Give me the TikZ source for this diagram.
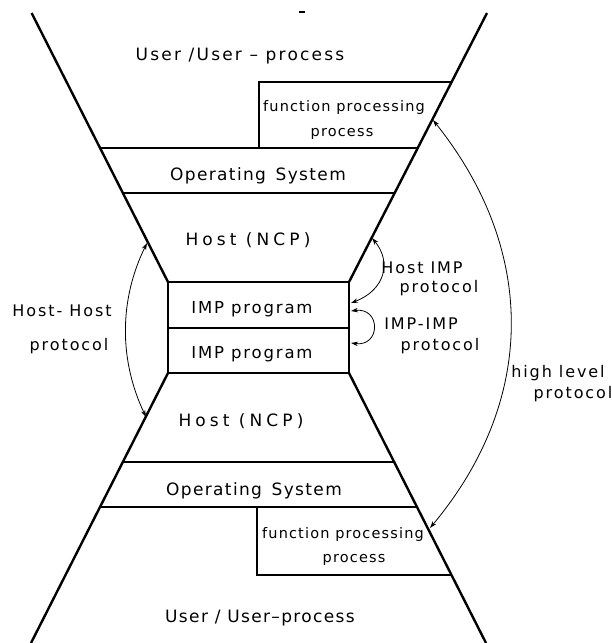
\documentclass[tikz,border=0pt]{standalone}
\usepackage{fontspec}
\setmainfont{DejaVu Sans}[LetterSpace=8]
\usetikzlibrary{arrows.meta,calc}
\tikzset{
  funnel/.style={line width=2.4pt},
  layer/.style={line width=1.6pt},
  impbox/.style={line width=2.8pt},
  fbox/.style={line width=1.2pt},
  proto/.style={line width=0.8pt,{Stealth[length=7pt,width=4.5pt]}-{Stealth[length=7pt,width=4.5pt]}},
  lbl/.style={anchor=base,inner sep=0pt,font=\fontsize{17}{20}\selectfont},
  lblw/.style={lbl,font=\fontsize{17}{20}\selectfont\addfontfeature{LetterSpace=13}},
  wide/.style={lbl,font=\fontsize{17}{20}\selectfont\addfontfeature{LetterSpace=24}},
  implbl/.style={lbl,font=\fontsize{16.5}{20}\selectfont\addfontfeature{LetterSpace=11}},
  flbl/.style={lbl,font=\fontsize{14.5}{18}\selectfont},
  side/.style={lbl,font=\fontsize{16}{20}\selectfont\addfontfeature{LetterSpace=12}},
}
\begin{document}
\begin{tikzpicture}[x=1pt,y=-1pt]
\useasboundingbox (0,0) rectangle (612,643);
% key points of the funnels
\coordinate (TL) at (31.6,13);
\coordinate (TR) at (487,13);
\coordinate (IL) at (168,282);
\coordinate (IR) at (349,282);
\coordinate (JL) at (168,373);
\coordinate (JR) at (349,373);
\coordinate (BL) at (31,643);
\coordinate (BR) at (486,643);
% funnel sides
\draw[funnel] (TL) -- (IL);
\draw[funnel] (TR) -- (IR);
\draw[funnel] (JL) -- (BL);
\draw[funnel] (JR) -- (BR);
% top layers
\draw[layer] (100.1,148) -- (417.7,148);
\draw[layer] (122.9,193) -- (394.7,193);
\draw[fbox] (259,148) -- (259,82) -- (451.6,82);
% IMP box
\draw[impbox] (IL) rectangle (JR);
\draw[layer] (168,328) -- (349,328);
% bottom layers
\draw[layer] (122.8,462) -- (394.2,462);
\draw[layer] (100,507) -- (416.9,507);
\draw[fbox] (257,507) -- (257,575) -- (451.5,575);
% stray mark at top
\draw[line width=1.2pt] (299,12) -- (305,12);
% labels
\node[lblw] (u1) at (240,60) {User /User – process};
\node[flbl] (f1a) at (344,111.5) {function processing};
\node[flbl] (f1b) at (342,136.5) {process};
\node[lbl] (os1) at (258,180) {Operating\, System};
\node[wide] (h1) at (248,245) {Host (NCP)};
\node[implbl] (i1) at (252,313) {IMP program};
\node[implbl] (i2) at (252,358) {IMP program};
\node[wide] (h2) at (241,426) {Host (NCP)};
\node[lbl] (os2) at (254,495) {Operating\, System};
\node[flbl] (f2a) at (343,538) {function processing};
\node[flbl] (f2b) at (354,562) {process};
\node[lbl] (u2) at (260,622) {User / User–process};
\node[side] (hha) at (62,316.5) {Host- Host};
\node[side] (hhb) at (69,350) {protocol};
\node[side] (hia) at (422,273) {Host IMP};
\node[side] (hib) at (439,292) {protocol};
\node[side] (iia) at (421,329) {IMP-IMP};
\node[side] (iib) at (440,350) {protocol};
\node[side] (hla) at (558,377) {high level};
\node[side] (hlb) at (573,398) {protocol};
% protocol arrows
\coordinate (hhT) at (147,243);
\coordinate (hhB) at (146,417);
\coordinate (hiT) at (372,238);
\coordinate (hiB) at (351,303);
\coordinate (iiT) at (351,311);
\coordinate (iiB) at (351,343);
\coordinate (hlT) at (433,120);
\coordinate (hlB) at (430,528);
\draw[proto] (hhT) .. controls (119,300) and (119,360) .. (hhB);
\draw[proto] (hiT) .. controls (392,262) and (385,290) .. (hiB);
\draw[proto] (iiT) .. controls (381,307) and (381,347) .. (iiB);
\draw[proto] (hlT) .. controls (537,250) and (537,400) .. (hlB);
\end{tikzpicture}
\end{document}
